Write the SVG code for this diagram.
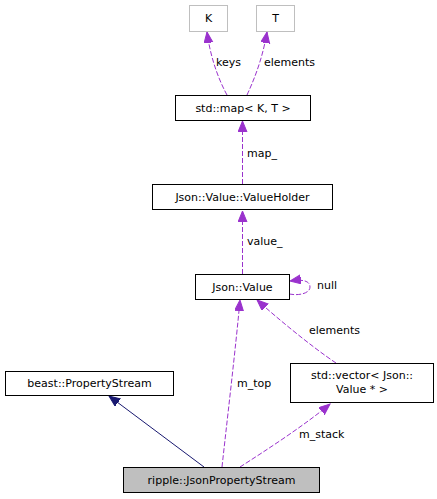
<svg xmlns="http://www.w3.org/2000/svg" width="437" height="499" viewBox="0 0 437 499">
<style>
  .box { fill: #ffffff; stroke: #000000; stroke-width: 1; }
  .grey { fill: #ffffff; stroke: #bfbfbf; stroke-width: 1; }
  .cur { fill: #bfbfbf; stroke: #000000; stroke-width: 1; }
  .t { font-family: "DejaVu Sans", sans-serif; font-size: 11px; fill: #000000; text-anchor: middle; }
  .lbl { font-family: "DejaVu Sans", sans-serif; font-size: 11px; fill: #000000; }
  .use { fill: none; stroke: #9a32cd; stroke-width: 1; stroke-dasharray: 5,2; }
  .inh { fill: none; stroke: #191970; stroke-width: 1; }
</style>
<defs>
  <marker id="ap" markerUnits="userSpaceOnUse" markerWidth="13" markerHeight="10" refX="11" refY="4.5" orient="auto">
    <path d="M0,0 L11,4.5 L0,9 z" fill="#9a32cd" stroke="#9a32cd"/>
  </marker>
  <marker id="an" markerUnits="userSpaceOnUse" markerWidth="13" markerHeight="10" refX="11" refY="4.5" orient="auto">
    <path d="M0,0 L11,4.5 L0,9 z" fill="#191970" stroke="#191970"/>
  </marker>
</defs>
<g id="edges">
  <path class="use" d="M227,95 C221,84 211,62 207,32" marker-end="url(#ap)"/>
  <path class="use" d="M247,95 C252,84 262,62 267,32" marker-end="url(#ap)"/>
  <path class="use" d="M242.5,184 L242.5,121" marker-end="url(#ap)"/>
  <path class="use" d="M242.5,274 L242.5,211" marker-end="url(#ap)"/>
  <path class="use" d="M289,294 C300,296 310,293 310,287 C310,281 303,279 290,281" marker-end="url(#ap)"/>
  <path class="use" d="M336,363 C312,347 277,318 257,300" marker-end="url(#ap)"/>
  <path class="use" d="M222,467 C226,430 236,345 240,300" marker-end="url(#ap)"/>
  <path class="use" d="M240,467 C265,451 305,425 330,404" marker-end="url(#ap)"/>
  <path class="inh" d="M204,467 L109,396" marker-end="url(#an)"/>
  <text class="lbl" x="216" y="66">keys</text>
  <text class="lbl" x="264" y="66">elements</text>
  <text class="lbl" x="247" y="157">map_</text>
  <text class="lbl" x="247" y="245">value_</text>
  <text class="lbl" x="317" y="289">null</text>
  <text class="lbl" x="309" y="334">elements</text>
  <text class="lbl" x="237" y="387">m_top</text>
  <text class="lbl" x="299" y="438">m_stack</text>
</g>
<g id="node-K"><rect class="grey" x="189.5" y="5.5" width="38" height="26"/><text class="t" x="208.5" y="22">K</text></g>
<g id="node-T"><rect class="grey" x="256.5" y="5.5" width="38" height="26"/><text class="t" x="275.5" y="22">T</text></g>
<g id="node-map"><rect class="box" x="175.5" y="95.5" width="135" height="25"/><text class="t" x="243" y="112">std::map&lt; K, T &gt;</text></g>
<g id="node-valueholder"><rect class="box" x="152.5" y="184.5" width="180" height="25"/><text class="t" x="242.5" y="201">Json::Value::ValueHolder</text></g>
<g id="node-value"><rect class="box" x="195.5" y="274.5" width="94" height="25"/><text class="t" x="242.5" y="291">Json::Value</text></g>
<g id="node-beast"><rect class="box" x="5.5" y="371.5" width="168" height="24"/><text class="t" x="89.5" y="387">beast::PropertyStream</text></g>
<g id="node-vector"><rect class="box" x="290.5" y="363.5" width="143" height="39"/><text class="t" x="362" y="379">std::vector&lt; Json::</text><text class="t" x="362" y="393">Value * &gt;</text></g>
<g id="node-ripple"><rect class="cur" x="123.5" y="467.5" width="196" height="25"/><text class="t" x="221.5" y="484">ripple::JsonPropertyStream</text></g>
</svg>
